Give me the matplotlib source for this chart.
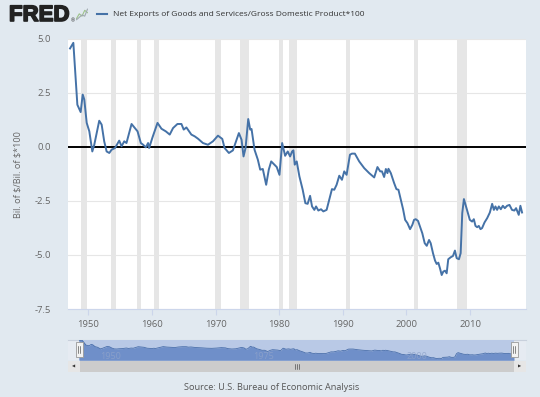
import matplotlib
matplotlib.use("Agg")
import matplotlib.pyplot as plt
import matplotlib.patheffects as pe
from matplotlib.patches import Rectangle
from matplotlib.lines import Line2D

plt.rcParams['axes.unicode_minus'] = False
plt.rcParams['font.family'] = ['Open Sans', 'DejaVu Sans']

# ------------------ data ------------------
years = [1947.13, 1947.65, 1948.28, 1948.80, 1949.12, 1949.37, 1949.75, 1950.16, 1950.63, 1950.94,
         1951.72, 1952.10, 1952.50, 1952.88, 1953.30, 1953.66, 1954.20, 1954.86, 1955.23, 1955.65,
         1956.00, 1956.80, 1957.32, 1957.74, 1958.26, 1958.62, 1959.04, 1959.40, 1959.56, 1960.09,
         1960.88, 1961.50, 1962.18, 1962.80, 1963.32, 1964.01, 1964.64, 1965.00, 1965.42, 1966.20,
         1966.72, 1967.24, 1968.02, 1968.81, 1969.60, 1970.38, 1971.06, 1971.42, 1972.10, 1972.73,
         1973.67, 1974.09, 1974.40, 1974.72, 1975.14, 1975.45, 1975.66, 1976.13, 1976.65, 1977.02,
         1977.43, 1977.96, 1978.37, 1978.75, 1979.26, 1979.62, 1980.05, 1980.47, 1980.94, 1981.35,
         1981.72, 1982.04, 1982.24, 1982.45, 1982.76, 1983.18, 1983.70, 1984.12, 1984.48, 1984.86,
         1985.17, 1985.53, 1985.80, 1986.16, 1986.58, 1986.94, 1987.46, 1987.88, 1988.30, 1988.66,
         1989.03, 1989.45, 1989.87, 1990.23, 1990.60, 1991.13, 1991.44, 1991.90, 1992.58, 1993.37,
         1994.15, 1994.94, 1995.45, 1995.88, 1996.16, 1996.50, 1996.77, 1997.02, 1997.18, 1997.55,
         1998.07, 1998.43, 1998.75, 1999.12, 1999.48, 1999.80, 2000.16, 2000.58, 2000.94, 2001.20,
         2001.47, 2001.83, 2002.10, 2002.50, 2002.88, 2003.20, 2003.56, 2003.82, 2004.18, 2004.50,
         2004.76, 2005.02, 2005.28, 2005.55, 2005.80, 2006.07, 2006.33, 2006.58, 2006.96, 2007.32,
         2007.63, 2007.90, 2008.26, 2008.53, 2008.78, 2009.04, 2009.30, 2009.66, 2009.97, 2010.33,
         2010.60, 2010.86, 2011.12, 2011.38, 2011.65, 2011.90, 2012.28, 2012.70, 2013.12, 2013.48,
         2013.75, 2014.00, 2014.26, 2014.53, 2014.84, 2015.16, 2015.47, 2015.83, 2016.20, 2016.60,
         2016.97, 2017.24, 2017.50, 2017.66, 2017.92, 2018.18]
net_exports_pct = [4.54, 4.80, 1.94, 1.60, 2.41, 2.18, 1.10, 0.71, -0.22, 0.09,
                   1.20, 1.02, 0.25, -0.22, -0.29, -0.14, -0.06, 0.28, 0.02, 0.25,
                   0.17, 1.05, 0.86, 0.71, 0.17, 0.09, -0.03, 0.17, -0.06, 0.43,
                   1.10, 0.83, 0.71, 0.56, 0.86, 1.05, 1.05, 0.79, 0.89, 0.56,
                   0.48, 0.37, 0.17, 0.09, 0.25, 0.51, 0.36, -0.06, -0.29, -0.17,
                   0.63, 0.32, -0.45, -0.06, 1.28, 0.79, 0.82, -0.14, -0.60, -1.06,
                   -1.03, -1.76, -1.06, -0.68, -0.83, -0.94, -1.30, 0.17, -0.42, -0.22,
                   -0.45, -0.22, -0.17, -0.83, -0.68, -1.37, -1.99, -2.61, -2.64, -2.27,
                   -2.76, -2.92, -2.76, -2.95, -2.89, -2.99, -2.92, -2.45, -1.96, -1.99,
                   -1.76, -1.34, -1.53, -1.14, -1.30, -0.37, -0.32, -0.32, -0.68, -0.99,
                   -1.22, -1.42, -0.94, -1.14, -1.14, -1.40, -1.03, -1.22, -1.02, -1.22,
                   -1.68, -1.96, -1.99, -2.45, -2.89, -3.38, -3.53, -3.81, -3.61, -3.38,
                   -3.35, -3.43, -3.66, -4.00, -4.46, -4.58, -4.31, -4.46, -4.92, -5.26,
                   -5.42, -5.36, -5.62, -5.93, -5.77, -5.73, -5.85, -5.20, -5.11, -5.05,
                   -4.80, -5.15, -5.20, -4.92, -3.07, -2.42, -2.69, -3.07, -3.38, -3.46,
                   -3.35, -3.66, -3.72, -3.66, -3.81, -3.76, -3.50, -3.30, -3.04, -2.64,
                   -2.92, -2.76, -2.92, -2.76, -2.89, -2.73, -2.84, -2.73, -2.69, -2.92,
                   -2.95, -2.84, -3.04, -3.15, -2.73, -3.04]

recession_start = [1948.83, 1953.50, 1957.63, 1960.29, 1969.96, 1973.87, 1980.04, 1981.54, 1990.54, 2001.21, 2007.96]
recession_end = [1949.79, 1954.37, 1958.29, 1961.12, 1970.87, 1975.21, 1980.54, 1982.87, 1991.21, 2001.87, 2009.46]

ytick_vals = [5.0, 2.5, 0.0, -2.5, -5.0, -7.5]
ytick_labels = ['5.0', '2.5', '0.0', '-2.5', '-5.0', '-7.5']
xtick_vals = [1950, 1960, 1970, 1980, 1990, 2000, 2010]
nav_labels = [1950, 1975, 2000]

title = 'Net Exports of Goods and Services/Gross Domestic Product*100'
ylabel = 'Bil. of $/Bil. of $*100'
source = 'Source: U.S. Bureau of Economic Analysis'

# ------------------ figure ------------------
W, H = 540, 397
bg = '#e1e9f0'
line_color = '#4572a7'

def fx(px):
    return px / W

def fy(py):
    return 1 - py / H

fig = plt.figure(figsize=(W / 100, H / 100), dpi=100, facecolor=bg)

# main plot
ax = fig.add_axes([fx(68), fy(309), fx(526) - fx(68), fy(38.5) - fy(309)])
ax.set_facecolor('white')
for s, e in zip(recession_start, recession_end):
    ax.axvspan(s, e, color='#e6e6e6', lw=0, zorder=0)
for v in ytick_vals:
    if v != 0.0:
        ax.axhline(v, color='#e6e6e6', lw=0.8, zorder=0.5)
ax.axhline(0, color='black', lw=1.4, zorder=2)
ax.plot(years, net_exports_pct, color=line_color, lw=1.4, zorder=3)

ax.set_xlim(1946.81, 2018.8)
ax.set_ylim(-7.5, 5.0)
ax.set_yticks(ytick_vals)
ax.set_yticklabels(ytick_labels)
ax.set_xticks(xtick_vals)
ax.tick_params(axis='y', length=0, pad=12, labelsize=6.8, labelcolor='#666666')
ax.tick_params(axis='x', length=4, color='#ccd6eb', pad=4, labelsize=6.8, labelcolor='#666666')
for sp in ['top', 'left', 'right']:
    ax.spines[sp].set_visible(False)
ax.spines['bottom'].set_color('#ccd6eb')
ax.spines['bottom'].set_linewidth(0.8)

# header
fig.text(fx(9), fy(15.5), 'FRED', fontsize=16, fontweight='bold', family='Liberation Sans',
         color='#222222', va='center', ha='left',
         path_effects=[pe.withStroke(linewidth=1.2, foreground='#222222')])
fig.text(fx(71), fy(21), '\u00ae', fontsize=3.5, color='#222222', va='center', ha='left')
# little chart icon
icon = fig.add_axes([fx(76), fy(22), fx(12), fy(8) - fy(22)])
icon.plot([0, 1, 2, 3, 4], [0.2, 0.6, 0.4, 0.9, 0.7], color='#9cc28a', lw=0.8)
icon.plot([0, 1, 2, 3, 4], [0.1, 0.3, 0.5, 0.4, 1.0], color='#a0a8b0', lw=0.8)
icon.set_xlim(-0.2, 4.2)
icon.set_ylim(-0.1, 1.1)
icon.axis('off')
fig.add_artist(Line2D([fx(97), fx(107)], [fy(14), fy(14)], color=line_color, lw=1.5))
fig.text(fx(113), fy(14), title, fontsize=6, color='#333333', va='center', ha='left')

fig.text(fx(18), fy(175), ylabel, fontsize=6.6, color='#666666', rotation=90,
         va='center', ha='center', parse_math=False)

# navigator
back = fig.add_axes([fx(68), fy(360.3), fx(526) - fx(68), fy(339.6) - fy(360.3)])
back.set_facecolor('#e6ebf2')
back.set_xticks([])
back.set_yticks([])
for sp in back.spines.values():
    sp.set_visible(False)
back.spines['top'].set_visible(True)
back.spines['top'].set_color('#c8d0dc')

nav = fig.add_axes([fx(79), fy(360.3), fx(514) - fx(79), fy(339.6) - fy(360.3)])
nav.set_facecolor('#b9c9e6')
nav.fill_between(years, net_exports_pct, -6.9, color='#6f8fc9', lw=0, zorder=2)
nav.plot(years, net_exports_pct, color='#4a6fab', lw=0.6, zorder=3)
nav.set_xlim(years[0], years[-1])
nav.set_ylim(-6.9, 5.2)
for yr in nav_labels:
    nav.text(yr + 0.6, -4.5, str(yr), fontsize=6.5, color='#8fa3c9', ha='left', va='center',
             alpha=0.8, zorder=4)
nav.set_xticks([])
nav.set_yticks([])
for sp in nav.spines.values():
    sp.set_visible(False)

# navigator handles
for hx in (79, 514):
    fig.add_artist(Rectangle((fx(hx - 3.5), fy(357)), fx(7), fy(342) - fy(357),
                             facecolor='#f2f2f2', edgecolor='#999999', lw=0.6))
    for dx in (-1, 1):
        fig.add_artist(Line2D([fx(hx + dx), fx(hx + dx)], [fy(346), fy(353)], color='#333333', lw=0.4))

# scrollbar
fig.add_artist(Rectangle((fx(68), fy(371.6)), fx(458), fy(360.6) - fy(371.6),
                         facecolor='#f2f2f2', edgecolor='none'))
fig.add_artist(Rectangle((fx(79), fy(371.6)), fx(435), fy(360.6) - fy(371.6),
                         facecolor='#cccccc', edgecolor='none'))
for bx, glyph in ((68, '\u25c0'), (514, '\u25b6')):
    fig.add_artist(Rectangle((fx(bx), fy(371.6)), fx(12), fy(360.6) - fy(371.6),
                             facecolor='#e6e6e6', edgecolor='none'))
    fig.text(fx(bx + 6), fy(366.1), glyph, fontsize=3, color='#333333', family='DejaVu Sans',
             ha='center', va='center')
for gx in (-2, 0, 2):
    fig.add_artist(Line2D([fx(296.5 + gx), fx(296.5 + gx)], [fy(363.5), fy(368.5)], color='#333333', lw=0.4))

fig.text(fx(272), fy(388), source, fontsize=6.6, color='#555555', ha='center', va='center')

fig.savefig('out.png', dpi=100, facecolor=bg)
